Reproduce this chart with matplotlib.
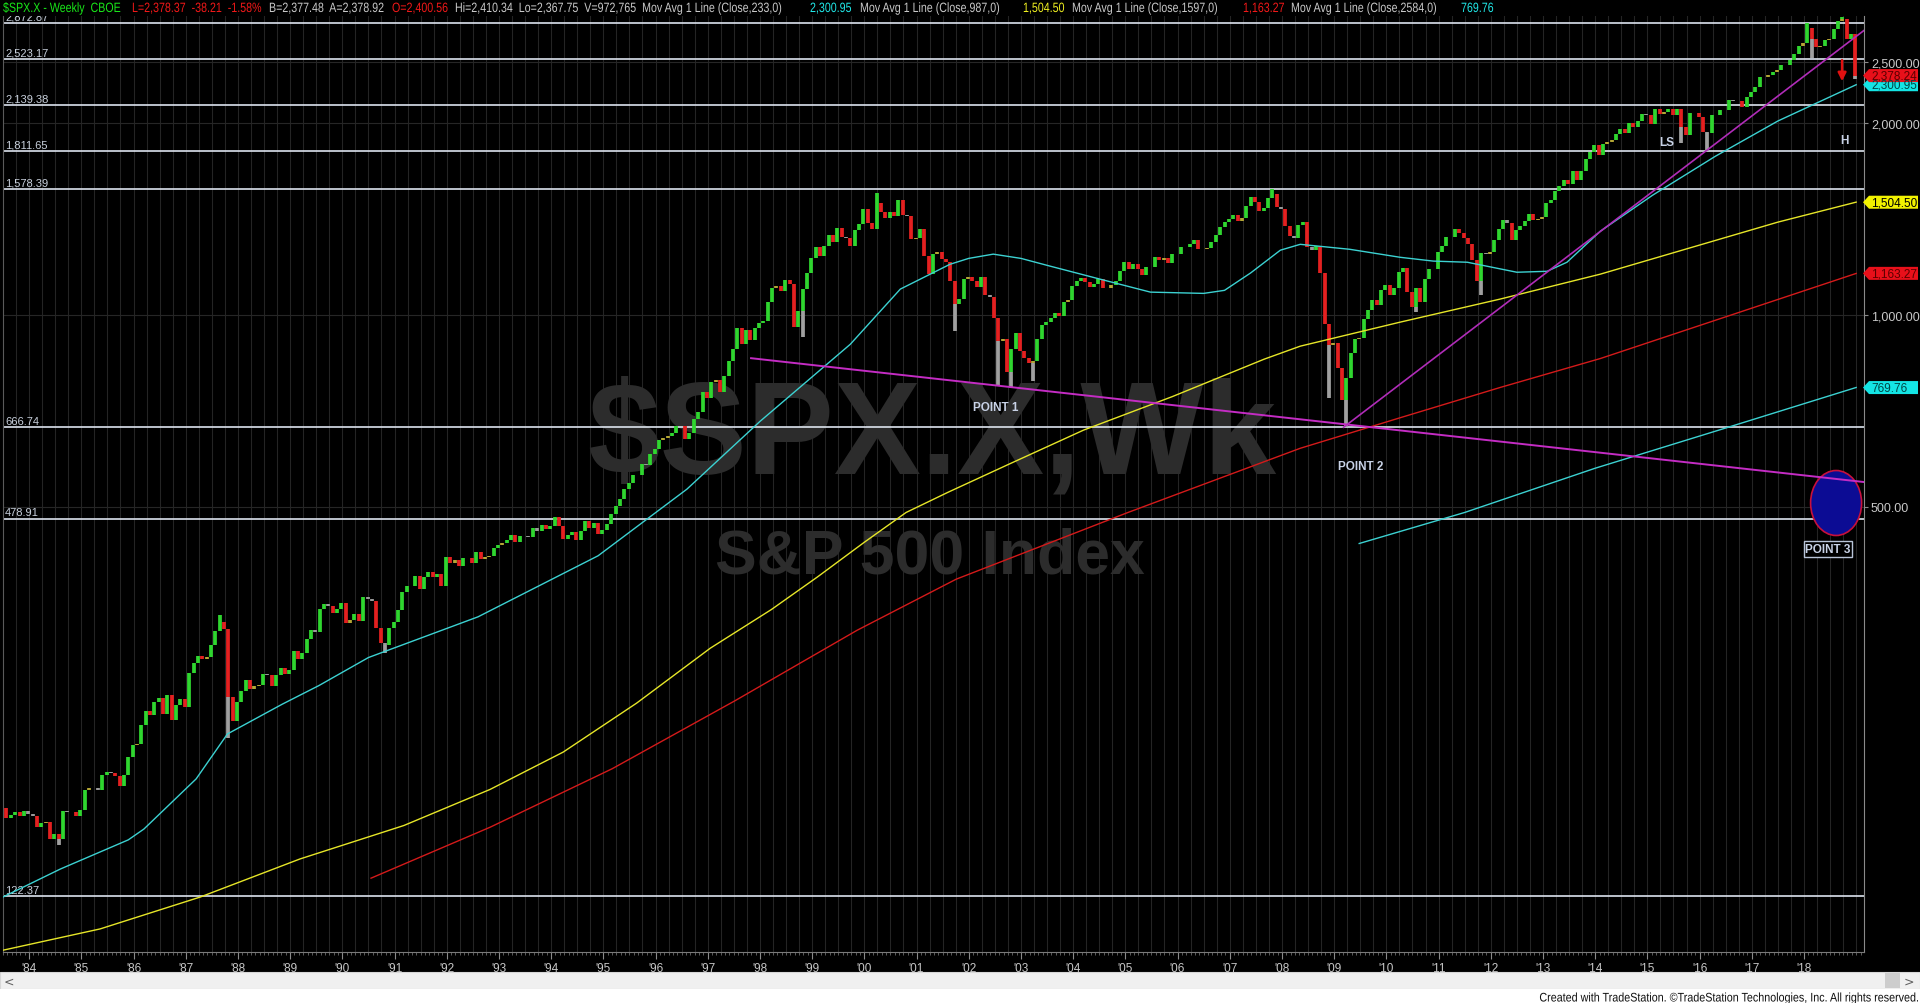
import matplotlib
matplotlib.use("Agg")
import matplotlib.pyplot as plt
import numpy as np
from matplotlib.collections import LineCollection
from matplotlib.font_manager import FontProperties
from matplotlib.patches import Ellipse, PathPatch, Polygon, Rectangle
from matplotlib.textpath import TextPath
from matplotlib.ticker import NullLocator
from matplotlib.transforms import Affine2D

# ---------------------------------------------------------------------------
# Data read off the TradeStation weekly $SPX.X chart
# ---------------------------------------------------------------------------
# S&P 500 month-end closes, Jul 1983 .. Dec 2018 (last value = live quote)
start_t = 1983.5
prior_close = 168.11
monthly_close = [
    162.56, 164.40, 166.07, 163.55, 166.40, 164.93,                      # 1983 H2
    163.41, 157.06, 159.18, 160.05, 150.55, 153.18, 150.66, 166.68, 166.10, 166.09, 163.58, 167.24,
    179.63, 181.18, 180.66, 179.83, 189.55, 191.85, 190.92, 188.63, 182.08, 189.82, 202.17, 211.28,
    211.78, 226.92, 238.90, 235.52, 247.35, 250.84, 236.12, 252.93, 231.32, 243.98, 249.22, 242.17,
    274.08, 284.20, 291.70, 288.36, 290.10, 304.00, 318.66, 329.80, 321.83, 251.79, 230.30, 247.08,
    257.07, 267.82, 258.89, 261.33, 262.16, 273.50, 272.02, 261.52, 271.91, 278.97, 273.70, 277.72,
    297.47, 288.86, 294.87, 309.64, 320.52, 317.98, 346.08, 351.45, 349.15, 340.36, 345.99, 353.40,
    329.08, 331.89, 339.94, 330.80, 361.23, 358.02, 356.15, 322.56, 306.05, 304.00, 322.22, 330.22,
    343.93, 367.07, 375.22, 375.35, 389.83, 371.16, 387.81, 395.43, 387.86, 392.46, 375.22, 417.09,
    408.79, 412.70, 403.69, 414.95, 415.35, 408.14, 424.21, 414.03, 417.80, 418.68, 431.35, 435.71,
    438.78, 443.38, 451.67, 440.19, 450.19, 450.53, 448.13, 463.56, 458.93, 467.83, 461.79, 466.45,
    481.61, 467.14, 445.77, 450.91, 456.50, 444.27, 458.26, 475.49, 462.69, 472.35, 453.69, 459.27,
    470.42, 487.39, 500.71, 514.71, 533.40, 544.75, 562.06, 561.88, 584.41, 581.50, 605.37, 615.93,
    636.02, 640.43, 645.50, 654.17, 669.12, 670.63, 639.95, 651.99, 687.33, 705.27, 757.02, 740.74,
    786.16, 790.82, 757.12, 801.34, 848.28, 885.14, 954.31, 899.47, 947.28, 914.62, 955.40, 970.43,
    980.28, 1049.34, 1101.75, 1111.75, 1090.82, 1133.84, 1120.67, 957.28, 1017.01, 1098.67, 1163.63, 1229.23,
    1279.64, 1238.33, 1286.37, 1335.18, 1301.84, 1372.71, 1328.72, 1320.41, 1282.71, 1362.93, 1388.91, 1469.25,
    1394.46, 1366.42, 1498.58, 1452.43, 1420.60, 1454.60, 1430.83, 1517.68, 1436.51, 1429.40, 1314.95, 1320.28,
    1366.01, 1239.94, 1160.33, 1249.46, 1255.82, 1224.42, 1211.23, 1133.58, 1040.94, 1059.78, 1139.45, 1148.08,
    1130.20, 1106.73, 1147.39, 1076.92, 1067.14, 989.82, 911.62, 916.07, 815.28, 885.76, 936.31, 879.82,
    855.70, 841.15, 848.18, 916.92, 963.59, 974.50, 990.31, 1008.01, 995.97, 1050.71, 1058.20, 1111.92,
    1131.13, 1144.94, 1126.21, 1107.30, 1120.68, 1140.84, 1101.72, 1104.24, 1114.58, 1130.20, 1173.82, 1211.92,
    1181.27, 1203.60, 1180.59, 1156.85, 1191.50, 1191.33, 1234.18, 1220.33, 1228.81, 1207.01, 1249.48, 1248.29,
    1280.08, 1280.66, 1294.83, 1310.61, 1270.09, 1270.20, 1276.66, 1303.82, 1335.85, 1377.94, 1400.63, 1418.30,
    1438.24, 1406.82, 1420.86, 1482.37, 1530.62, 1503.35, 1455.27, 1473.99, 1526.75, 1549.38, 1481.14, 1468.36,
    1378.55, 1330.63, 1322.70, 1385.59, 1400.38, 1280.00, 1267.38, 1282.83, 1166.36, 968.75, 896.24, 903.25,
    825.88, 735.09, 797.87, 872.81, 919.14, 919.32, 987.48, 1020.62, 1057.08, 1036.19, 1095.63, 1115.10,
    1073.87, 1104.49, 1169.43, 1186.69, 1089.41, 1030.71, 1101.60, 1049.33, 1141.20, 1183.26, 1180.55, 1257.64,
    1286.12, 1327.22, 1325.83, 1363.61, 1345.20, 1320.64, 1292.28, 1218.89, 1131.42, 1253.30, 1246.96, 1257.60,
    1312.41, 1365.68, 1408.47, 1397.91, 1310.33, 1362.16, 1379.32, 1406.58, 1440.67, 1412.16, 1416.18, 1426.19,
    1498.11, 1514.68, 1569.19, 1597.57, 1630.74, 1606.28, 1685.73, 1632.97, 1681.55, 1756.54, 1805.81, 1848.36,
    1782.59, 1859.45, 1872.34, 1883.95, 1923.57, 1960.23, 1930.67, 2003.37, 1972.29, 2018.05, 2067.56, 2058.90,
    1994.99, 2104.50, 2067.89, 2085.51, 2107.39, 2063.11, 2103.84, 1972.18, 1920.03, 2079.36, 2080.41, 2043.94,
    1940.24, 1932.23, 2059.74, 2065.30, 2096.95, 2098.86, 2173.60, 2170.95, 2168.27, 2126.15, 2198.81, 2238.83,
    2278.87, 2363.64, 2362.72, 2384.20, 2411.80, 2423.41, 2470.30, 2471.65, 2519.36, 2575.26, 2647.58, 2673.61,
    2823.81, 2713.83, 2640.87, 2648.05, 2705.27, 2718.37, 2816.29, 2901.52, 2913.98, 2711.74, 2760.17, 2378.37,
]

# intramonth extremes poking out of the month-to-month bars
extreme_t = [1984.55, 1987.65, 1987.80, 1990.78, 1998.76, 2000.23, 2001.72, 2002.56,
             2002.78, 2003.20, 2007.78, 2008.89, 2009.18, 2010.51, 2011.76, 2015.65,
             2016.11, 2018.07, 2018.10, 2018.72, 2018.98]
extreme_v = [147.3, 337.9, 216.5, 294.5, 923.3, 1552.9, 944.8, 775.7,
             768.6, 788.9, 1576.1, 741.0, 666.8, 1010.9, 1074.8, 1867.0,
             1810.1, 2872.9, 2532.7, 2940.9, 2351.1]

# Mov Avg 1 Line (Close,233) - cyan
ma233_t = [1983.5, 1984.6, 1985.9, 1986.2, 1987.2, 1987.8, 1988.85, 1989.55, 1990.5,
           1992.6, 1994.9, 1996.6, 1998.0, 1999.73, 2000.69, 2001.64, 2002.0, 2002.47,
           2003.0, 2003.56, 2004.52, 2005.48, 2006.5, 2006.9, 2007.4, 2007.97, 2008.35,
           2009.3, 2010.26, 2010.9, 2011.55, 2012.5, 2013.08, 2013.46, 2014.1, 2015.1,
           2016.3, 2017.5, 2019.0]
ma233_v = [122, 135, 150, 156, 187, 220, 245, 262, 290,
           336, 419, 533, 681, 900, 1099, 1202, 1228, 1247,
           1228, 1194, 1139, 1087, 1082, 1094, 1165, 1265, 1292,
           1269, 1233, 1216, 1211, 1168, 1172, 1211, 1355, 1543,
           1776, 2018, 2301]

# Mov Avg 1 Line (Close,987) - yellow
ma987_t = [1983.44, 1985.36, 1987.28, 1989.19, 1991.18, 1992.83, 1994.23, 1995.64, 1997.05,
           1998.22, 1999.1, 2000.0, 2000.8, 2001.6, 2002.8, 2004.2, 2005.9, 2007.66, 2008.35,
           2010.26, 2012.18, 2014.1, 2017.5, 2019.0]
ma987_v = [100.4, 108.7, 122, 140, 158, 180, 206, 246, 300,
           345, 388, 440, 490, 527, 585, 660, 745, 853, 894,
           975, 1060, 1160, 1400, 1505]

# Mov Avg 1 Line (Close,1597) - red
ma1597_t = [1990.55, 1992.83, 1995.17, 1997.52, 1999.86, 2001.76, 2005.05, 2008.35,
            2010.26, 2012.18, 2014.1, 2019.0]
ma1597_v = [130.6, 157, 194, 248, 320, 385, 490, 618, 690, 770, 855, 1163]

# Mov Avg 1 Line (Close,2584) - cyan
ma2584_t = [2009.48, 2011.5, 2014.0, 2016.5, 2019.0]
ma2584_v = [438, 490, 575, 665, 770]

# drawn trendlines (magenta)
trend_down_t = [1997.83, 2019.15]
trend_down_v = [856, 547]
trend_up_t = [2009.18, 2019.15]
trend_up_v = [666.79, 2800]

# horizontal levels
levels = [2872.87, 2523.17, 2139.38, 1811.65, 1578.39, 666.74, 478.91, 122.37]

# right-hand value tags
tag_values = [2300.95, 2378.24, 1504.50, 1163.27, 769.76]
tag_colors = ["#14e4e4", "#e8101a", "#f2f200", "#e8101a", "#14e4e4"]
tag_text_colors = ["#004545", "#5a0000", "#000000", "#5a0000", "#004545"]

y_ticks = [500, 1000, 2000, 2500]

SANS = ["Liberation Sans", "DejaVu Sans"]

# ---------------------------------------------------------------------------
W, H = 1920, 1004
fig = plt.figure(figsize=(W / 100, H / 100), dpi=100, facecolor="black")
ax = fig.add_axes([3 / W, 1 - 953 / H, (1864 - 3) / W, (953 - 17) / H])
ax.set_facecolor("black")
ax.set_yscale("log")
ax.set_xlim(1983.5, 2019.15)
ax.set_ylim(100, 2950)


def narrow_text(x, y_base, s, color, size=12.0, sx=0.84, align="left"):
    """Condensed text in figure pixels (TradeStation uses a narrow font)."""
    path = TextPath((0, 0), s, size=size, prop=FontProperties(family=SANS))
    if align == "right":
        x -= path.get_extents().x1 * sx
    tr = Affine2D().scale(sx, 1).translate(x, H - y_base)
    fig.add_artist(PathPatch(path, transform=tr, fc=color, ec="none", lw=0, zorder=6))


# faint grid
for q in np.arange(1983.5, 2019.2, 0.25):
    ax.axvline(q, color="#242424", lw=0.8, zorder=0.2)
for v in y_ticks:
    ax.axhline(v, color="#262626", lw=0.8, zorder=0.2)

# watermark
ax.text(932 / W, 1 - 473 / H, "$SPX.X,Wk", transform=fig.transFigure, ha="center",
        va="baseline", fontsize=94, fontweight="bold", color="#2c2c2c",
        family=SANS, zorder=0.3)
ax.text(930 / W, 1 - 573 / H, "S&P 500 Index", transform=fig.transFigure, ha="center",
        va="baseline", fontsize=45, fontweight="bold", color="#2c2c2c",
        family=SANS, zorder=0.3)

# horizontal levels
for lv in levels:
    ax.axhline(lv, color="#dde4ee", lw=1.2, zorder=2)
    ax.annotate(f"{lv:,.2f}", (1983.5, lv), xytext=(1.5, 1), textcoords="offset points",
                ha="left", va="bottom", fontsize=8, color="#c8d0dc", family=SANS,
                annotation_clip=False, clip_on=True, zorder=2)

# price bars
closes = np.array(monthly_close)
prev = np.concatenate([[prior_close], closes[:-1]])
bar_x = start_t + (np.arange(len(closes)) + 0.8) / 12
chg = closes / prev - 1
colors = np.where(chg > 0.01, "#2fd62f",
                  np.where(chg < -0.01, "#e42020",
                           np.where(chg >= 0, "#b4a634", "#9a9a9a")))
segs = [[(x, a), (x, b)] for x, a, b in zip(bar_x, prev, closes)]
for t, v in zip(extreme_t, extreme_v):
    i = int((t - start_t) * 12)
    lo, hi = sorted((prev[i], closes[i]))
    end = lo if v < lo else hi
    segs.append([(bar_x[i], v), (bar_x[i], end)])
    colors = np.append(colors, "#a0a0a0" if v < lo else "#2fd62f")
ax.add_collection(LineCollection(segs, colors=colors, linewidths=2.7, zorder=3))

# moving averages
ax.plot(ma233_t, ma233_v, color="#3cd2d2", lw=1.0, zorder=3.5)
ax.plot(ma987_t, ma987_v, color="#e6e628", lw=1.0, zorder=3.5)
ax.plot(ma1597_t, ma1597_v, color="#d41a1a", lw=1.0, zorder=3.5)
ax.plot(ma2584_t, ma2584_v, color="#3cd2d2", lw=1.0, zorder=3.5)

# target ellipse (under the trendline)
ax.add_patch(Ellipse((0.985, 0.4797), 0.0274, 0.0694, transform=ax.transAxes,
                     fc="#0c0c94", ec="#c8103c", lw=1.2, zorder=3.6))

# trendlines
ax.plot(trend_down_t, trend_down_v, color="#c42cc4", lw=1.4, zorder=4)
ax.plot(trend_up_t, trend_up_v, color="#b02cb8", lw=1.2, zorder=4)

# annotations
lab = dict(fontsize=8.5, fontweight="bold", color="#c8d2e6", family=SANS,
           ha="center", va="center", zorder=5)
ax.text(2002.51, 717, "POINT 1", **lab)
ax.text(2009.50, 579, "POINT 2", **lab)
ax.text(2015.38, 1869, "LS", **lab)
ax.text(2018.77, 1883, "H", **lab)
ax.text(2018.46, 429, "POINT 3", bbox=dict(boxstyle="square,pad=0.15", fc="black",
                                           ec="#b8c4d8", lw=1.0), **lab)
ax.annotate("", xy=(2018.73, 2330), xytext=(2018.73, 2515),
            arrowprops=dict(arrowstyle="-|>", color="#e01010", lw=1.8, mutation_scale=12,
                            shrinkA=0, shrinkB=0),
            zorder=5)

# axes styling
ax.spines["top"].set_visible(False)
ax.spines["left"].set_color("#5a5a5a")
ax.spines["right"].set_color("#8a8a8a")
ax.spines["bottom"].set_color("#7a7a7a")

years = list(range(1984, 2019))
ax.set_xticks(years)
ax.set_xticklabels([f"'{y % 100:02d}" for y in years], family=SANS)
ax.set_xticks(np.arange(1983.5, 2019.15, 1 / 12), minor=True)
ax.tick_params(axis="x", which="major", colors="#8a8a8a", labelcolor="#c8c8c8",
               length=5, labelsize=8.5, pad=2)
ax.tick_params(axis="x", which="minor", colors="#6a6a6a", length=2.5)

ax.yaxis.tick_right()
ax.set_yticks(y_ticks)
ax.set_yticklabels([f"{v:,.2f}" for v in y_ticks], family=SANS)
ax.yaxis.set_minor_locator(NullLocator())
ax.tick_params(axis="y", colors="#8a8a8a", labelcolor="#c8c8c8", length=3,
               labelsize=9, pad=2)

# value tags on the price scale
for v, fc, tc in zip(tag_values, tag_colors, tag_text_colors):
    yd = ax.transData.transform((2019.0, v))[1]
    pts = [(1863, yd), (1869, yd + 6.5), (1918, yd + 6.5), (1918, yd - 6.5), (1869, yd - 6.5)]
    fig.add_artist(Polygon([(x / W, y / H) for x, y in pts], closed=True,
                           transform=fig.transFigure, fc=fc, ec="none", zorder=4))
    fig.text(1871 / W, yd / H, f"{v:,.2f}", color=tc, fontsize=8.5, family=SANS,
             ha="left", va="center", zorder=5)

# header line
header = [
    (3, "$SPX.X - Weekly  CBOE", "#19e619"),
    (132, "L=2,378.37  -38.21  -1.58%", "#f01818"),
    (269, "B=2,377.48  A=2,378.92", "#c8c8c8"),
    (392, "O=2,400.56", "#f01818"),
    (455, "Hi=2,410.34  Lo=2,367.75  V=972,765  Mov Avg 1 Line (Close,233,0)", "#c8c8c8"),
    (810, "2,300.95", "#20e8e8"),
    (860, "Mov Avg 1 Line (Close,987,0)", "#c8c8c8"),
    (1023, "1,504.50", "#f0f020"),
    (1072, "Mov Avg 1 Line (Close,1597,0)", "#c8c8c8"),
    (1243, "1,163.27", "#f01818"),
    (1291, "Mov Avg 1 Line (Close,2584,0)", "#c8c8c8"),
    (1461, "769.76", "#20e8e8"),
]
for x, s, c in header:
    narrow_text(x, 13, s, c, size=13.5, sx=0.79)

# scrollbar and footer
fig.add_artist(Rectangle((0, 1 - 990 / H), 1, 17 / H, transform=fig.transFigure,
                         fc="#f0f0f0", ec="#d8d8d8", lw=0.8, zorder=1))
fig.add_artist(Rectangle((1885 / W, 1 - 989 / H), 15 / W, 15 / H, transform=fig.transFigure,
                         fc="#cdcdcd", ec="none", zorder=2))
fig.add_artist(Rectangle((0, 0), 1, 14 / H, transform=fig.transFigure,
                         fc="white", ec="none", zorder=1))
fig.text(9 / W, 1 - 982 / H, "<", color="#606060", fontsize=9, ha="center", va="center")
fig.text(1909 / W, 1 - 982 / H, ">", color="#606060", fontsize=9, ha="center", va="center")
narrow_text(1918, 1002.5, "Created with TradeStation. \u00a9TradeStation Technologies, Inc. "
            "All rights reserved.", "#101010", size=12.5, sx=0.86, align="right")

fig.savefig("out.png", dpi=100, facecolor="black")
